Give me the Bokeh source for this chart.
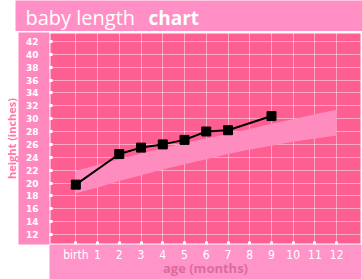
from bokeh.plotting import figure
from bokeh.models import (FixedTicker, LinearAxis, Label, Range1d, Grid)
from bokeh.layouts import column
from bokeh.embed import file_html
from bokeh.resources import INLINE

# ---- data ----
months = [0, 2, 3, 4, 5, 6, 7, 9]
length_in = [19.75, 24.5, 25.5, 26.0, 26.7, 28.0, 28.2, 30.4]
band_months = list(range(13))
band_upper = [21.9, 22.8, 23.7, 24.6, 25.4, 26.2, 26.9, 27.6, 28.4, 29.2, 29.9, 30.7, 31.4]
band_lower = [18.4, 19.3, 20.3, 21.2, 22.1, 22.9, 23.7, 24.5, 25.2, 25.8, 26.4, 26.9, 27.4]
x_ticks = list(range(13))
x_tick_labels = ["birth"] + [str(i) for i in range(1, 13)]
y_ticks = list(range(12, 43, 2))
title_main = "baby length"
title_bold = "chart"
x_title = "age (months)"
y_title = "height (inches)"

# ---- title bar (its own small figure) ----
tf = figure(width=362, height=31, output_backend="svg", toolbar_location=None,
            x_axis_type=None, y_axis_type=None, x_range=Range1d(0, 1), y_range=Range1d(0, 1),
            min_border_left=15, min_border_right=0, min_border_top=0, min_border_bottom=0,
            background_fill_color="#ff8fc4", border_fill_color="white", outline_line_color=None)
tf.add_layout(Label(x=10, y=14, x_units="screen", y_units="screen", text=title_main,
                    text_font="Open Sans", text_font_size="20px", text_color="white",
                    text_baseline="alphabetic"))
tf.add_layout(Label(x=133, y=14, x_units="screen", y_units="screen", text=title_bold,
                    text_font="Open Sans", text_font_size="19px", text_font_style="bold",
                    text_color="white", text_baseline="alphabetic"))

# ---- main chart ----
p = figure(width=362, height=248, output_backend="svg", toolbar_location=None,
           x_axis_type=None, y_axis_type=None,
           x_range=Range1d(-1.21, 13.14), y_range=Range1d(10.45, 43.38),
           min_border_left=47, min_border_right=1, min_border_top=1, min_border_bottom=34,
           background_fill_color="#fe5f92", border_fill_color="white",
           outline_line_color="white", outline_line_width=2)

for fig in (tf, p):
    if "frame_align" in fig.properties():
        fig.frame_align = False

p.add_layout(Grid(dimension=0, ticker=FixedTicker(ticks=x_ticks),
                  grid_line_color="white", grid_line_alpha=0.45, grid_line_width=1))
p.add_layout(Grid(dimension=1, ticker=FixedTicker(ticks=y_ticks),
                  grid_line_color="white", grid_line_alpha=0.45, grid_line_width=1))

yax = LinearAxis(ticker=FixedTicker(ticks=y_ticks), axis_line_color=None,
                 major_tick_in=3, major_tick_out=0, major_tick_line_color="white",
                 major_tick_line_width=3, minor_tick_line_color=None,
                 major_label_text_color="white", major_label_text_font="DejaVu Sans",
                 major_label_text_font_style="bold", major_label_text_font_size="9px",
                 major_label_standoff=11, axis_label=" ", axis_label_text_font_size="1px",
                 axis_label_standoff=0, background_fill_color="#ff88be")
p.add_layout(yax, "left")

yax2 = LinearAxis(ticker=FixedTicker(ticks=[]), axis_line_color=None,
                  major_tick_line_color=None, major_tick_in=0, major_tick_out=0,
                  minor_tick_line_color=None, minor_tick_in=0, minor_tick_out=0,
                  major_label_standoff=0, axis_label=y_title, axis_label_text_color="#ff78ac",
                  axis_label_text_font="Open Sans", axis_label_text_font_style="bold",
                  axis_label_text_font_size="11px", axis_label_standoff=0)
p.add_layout(yax2, "left")

xax = LinearAxis(ticker=FixedTicker(ticks=x_ticks),
                 major_label_overrides={t: lab for t, lab in zip(x_ticks, x_tick_labels)},
                 axis_line_color=None, major_tick_in=3, major_tick_out=0,
                 major_tick_line_color="white", major_tick_line_width=3,
                 minor_tick_line_color=None, major_label_text_color="white",
                 major_label_text_font="DejaVu Sans Condensed", major_label_text_font_size="12px",
                 major_label_standoff=3, axis_label=x_title, axis_label_text_color="#dd6a9e",
                 axis_label_text_font="Open Sans", axis_label_text_font_style="bold",
                 axis_label_text_font_size="13px", axis_label_standoff=-6,
                 background_fill_color="#ff94c8")
p.add_layout(xax, "below")

p.varea(x=band_months, y1=band_lower, y2=band_upper, fill_color="#ff8cbe", fill_alpha=1)
p.line(months, length_in, line_color="black", line_width=2)
p.scatter(months, length_in, marker="square", size=9, fill_color="black", line_color="black",
          line_width=1)

layout = column(tf, p, spacing=0)
open("out.html", "w").write(file_html(layout, INLINE))
